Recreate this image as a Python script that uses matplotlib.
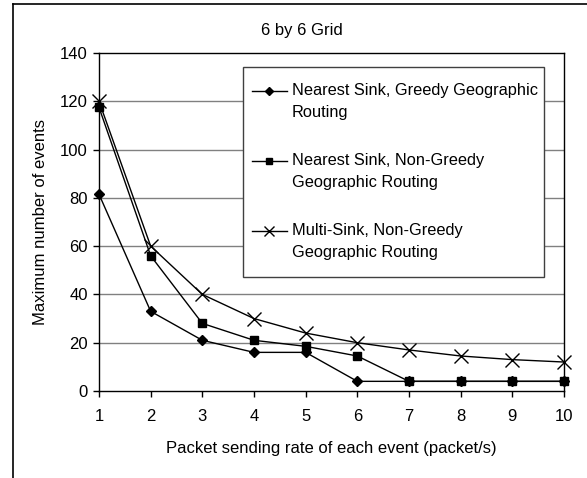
import matplotlib
matplotlib.use("Agg")
import matplotlib.pyplot as plt
from matplotlib.lines import Line2D
from matplotlib.patches import Rectangle
from matplotlib.legend_handler import HandlerLine2D

plt.rcParams['font.family'] = ['Liberation Sans', 'DejaVu Sans']

rates = [1, 2, 3, 4, 5, 6, 7, 8, 9, 10]
greedy = [81.5, 33, 21, 16, 16, 4, 4, 4, 4, 4]
nongreedy = [117.5, 56, 28, 21, 18.5, 14.5, 4, 4, 4, 4]
multisink = [120, 60, 40, 30, 24, 20, 17, 14.5, 13, 12]
labels = ["Nearest Sink, Greedy Geographic\nRouting",
          "Nearest Sink, Non-Greedy\nGeographic Routing",
          "Multi-Sink, Non-Greedy\nGeographic Routing"]
yticks = [0, 20, 40, 60, 80, 100, 120, 140]

FS = 12
LFS = 11.8


class TopHandler(HandlerLine2D):
    """Place legend handle next to the first line of a two-line label."""
    def create_artists(self, legend, orig_handle, xdescent, ydescent,
                       width, height, fontsize, trans):
        arts = super().create_artists(legend, orig_handle, xdescent, ydescent,
                                      width, height, fontsize, trans)
        dy = 0.66 * fontsize
        for a in arts:
            a.set_ydata([y + dy for y in a.get_ydata()])
            if a.get_marker() not in (None, 'None', ''):
                a.set_markersize(a.get_markersize() * 0.8)
        return arts


W, H = 587, 478
fig = plt.figure(figsize=(W / 100, H / 100), dpi=100)
ax = fig.add_axes([99 / W, 1 - 391 / H, (564 - 99) / W, (391 - 53) / H])

ax.plot(rates, greedy, color='black', lw=1, marker='D', ms=5.5, clip_on=False, zorder=5, label=labels[0])
ax.plot(rates, nongreedy, color='black', lw=1, marker='s', ms=5.4, clip_on=False, zorder=5, label=labels[1])
ax.plot(rates, multisink, color='black', lw=1, marker='x', ms=9.5, mew=1, clip_on=False, zorder=5, label=labels[2])

ax.set_xlim(1, 10)
ax.set_ylim(0, 140)
ax.set_xticks(rates)
ax.set_yticks(yticks)
ax.tick_params(axis='both', direction='out', length=4, width=1, labelsize=FS, colors='black')
ax.tick_params(axis='x', pad=9)
ax.tick_params(axis='y', pad=4)
for y in yticks[1:-1]:
    ax.axhline(y, color='#808080', lw=1, zorder=1)
for s in ax.spines.values():
    s.set_color('black')
    s.set_linewidth(1)

ax.set_xlabel("Packet sending rate of each event (packet/s)", fontsize=FS, labelpad=12)
ax.set_ylabel("Maximum number of events", fontsize=FS, labelpad=9)
fig.text(302 / W, 1 - 30 / H, "6 by 6 Grid", fontsize=FS, ha='center', va='center')

# legend frame (drawn separately so paddings can differ horizontally / vertically)
ax.add_patch(Rectangle((243 / W, 1 - 277 / H), (544 - 243) / W, (277 - 67) / H,
                       transform=fig.transFigure, facecolor='white', edgecolor='#404040',
                       lw=1, zorder=6, clip_on=False))
leg = ax.legend(loc='upper left', bbox_to_anchor=(252 / W, 1 - 83.5 / H),
                bbox_transform=fig.transFigure, borderaxespad=0, frameon=False,
                fontsize=LFS, handlelength=2.13, handletextpad=0.3, labelspacing=2.0,
                borderpad=0, handler_map={Line2D: TopHandler()})
leg.set_zorder(7)
for t in leg.get_texts():
    t.set_linespacing(1.57)

fig.add_artist(Line2D([13 / W, 13 / W], [0, 1 - 4 / H], color='black', lw=1.2, transform=fig.transFigure))
fig.add_artist(Line2D([13 / W, 1], [1 - 4 / H, 1 - 4 / H], color='black', lw=1.2, transform=fig.transFigure))

fig.savefig("out.png", dpi=100)
